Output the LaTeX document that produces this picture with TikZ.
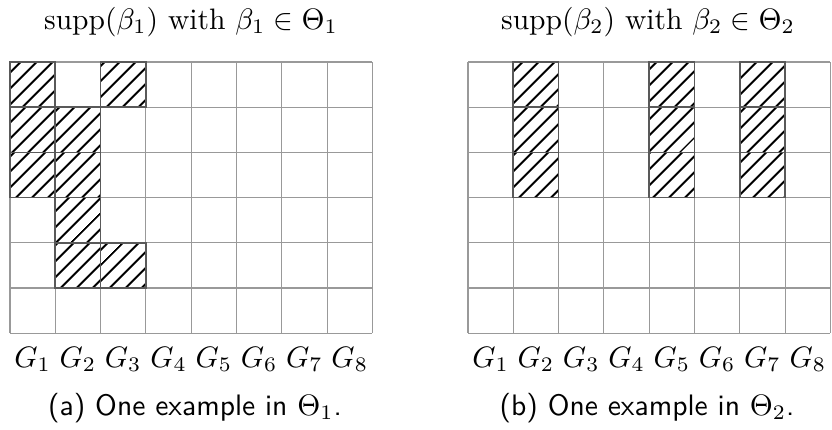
\documentclass[tikz,border=0pt]{standalone}
\usepackage{amsmath}
\usetikzlibrary{patterns.meta}

\begin{document}
\begin{tikzpicture}[
		x=0.338pt, y=-0.338pt,
		every node/.style={font=\normalsize},
		cellgrid/.style={draw=black!40, line width=0.35pt},
		hatchfill/.style={pattern={Lines[angle=45, distance=4pt, line width=0.8pt]}},
		hatchedge/.style={draw=black!65, line width=0.55pt},
		glabel/.style={anchor=base},
		heading/.style={anchor=base},
		caption/.style={anchor=base, font=\sffamily}
	]
		\useasboundingbox (0,0) rectangle (832,429);

		% panel (a)
		\foreach \c/\r in {1/1,1/2,1/3,2/2,2/3,2/4,2/5,3/1,3/5}
			\fill[hatchfill]
				({10+(\c-1)*45.3},{62+(\r-1)*45.2}) rectangle ++(45.3,45.2);
		\foreach \i in {0,...,8}
			\draw[cellgrid] ({10+\i*45.3},62) -- ({10+\i*45.3},333.2);
		\foreach \j in {0,...,6}
			\draw[cellgrid] (10,{62+\j*45.2}) -- (372.4,{62+\j*45.2});
		\foreach \c/\r in {1/1,1/2,1/3,2/2,2/3,2/4,2/5,3/1,3/5}
			\draw[hatchedge]
				({10+(\c-1)*45.3},{62+(\r-1)*45.2}) rectangle ++(45.3,45.2);
		\foreach \i in {1,...,8}
			\node[glabel] (ga\i) at ({10+(\i-0.5)*45.3},367) {$G_{\i}$};
		\node[heading] (tita) at (191,29) {$\mathrm{supp}(\beta_1)\ \text{with}\ \beta_1\in\Theta_1$};
		\node[caption] (capa) at (195,415) {(a) One example in $\Theta_1$.};

		% panel (b)
		\foreach \c in {2,5,7}
			\foreach \r in {1,2,3}
				\fill[hatchfill]
					({468+(\c-1)*45.3},{62+(\r-1)*45.2}) rectangle ++(45.3,45.2);
		\foreach \i in {0,...,8}
			\draw[cellgrid] ({468+\i*45.3},62) -- ({468+\i*45.3},333.2);
		\foreach \j in {0,...,6}
			\draw[cellgrid] (468,{62+\j*45.2}) -- (830.4,{62+\j*45.2});
		\foreach \c in {2,5,7}
			\foreach \r in {1,2,3}
				\draw[hatchedge]
					({468+(\c-1)*45.3},{62+(\r-1)*45.2}) rectangle ++(45.3,45.2);
		\foreach \i in {1,...,8}
			\node[glabel] (gb\i) at ({468+(\i-0.5)*45.3},367) {$G_{\i}$};
		\node[heading] (titb) at (648,29) {$\mathrm{supp}(\beta_2)\ \text{with}\ \beta_2\in\Theta_2$};
		\node[caption] (capb) at (647,415) {(b) One example in $\Theta_2$.};
	\end{tikzpicture}
\end{document}
